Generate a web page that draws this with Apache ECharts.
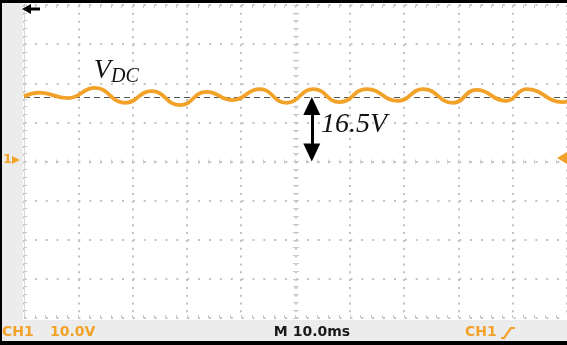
<!DOCTYPE html>
<html><head><meta charset="utf-8">
<script src="https://cdn.jsdelivr.net/npm/echarts@6/dist/echarts.min.js"></script>
<style>html,body{margin:0;padding:0;background:#fff}#c{width:567px;height:345px}</style>
</head><body><div id="c"></div>
<script>
// ---- data read from the scope capture ----
const timeMs  = [0, 2.8, 8.1, 13.1, 18.6, 23.5, 28.7, 33.6, 38.4, 43.4, 48.3, 53.3, 58.1, 63.1, 68.9, 73.5, 79.0, 83.3, 88.8, 92.5, 99.3, 100];
const voltage = [16.6, 17.6, 16.2, 18.8, 15.0, 18.0, 14.4, 17.8, 15.7, 18.5, 15.0, 18.5, 15.2, 18.5, 15.5, 18.5, 15.0, 18.3, 15.5, 18.5, 15.2, 15.3];
const dcLevel = 16.5;
const groundLevel = 0;
const arrowTime = 53.0;
const xRange = [0, 100];
const xStep = 10;
const yRange = [-40, 40];
const yStep = 10;
const vdcLabelPos = [17.0, 23.1];
const ampLabelPos = [60.8, 9.3];
const ampText = '16.5V';
const chText = 'CH1';
const voltsDiv = '10.0V';
const timeDiv = 'M 10.0ms';

const orange = '#f2a228';
const dotColor = '#c2c2c2';
const tickColor = '#c8c8c8';

const chart = echarts.init(document.getElementById('c'), null, {renderer: 'canvas'});

function xAx(extra) {
  return Object.assign({
    type: 'value', min: xRange[0], max: xRange[1], interval: xStep,
    axisLabel: {show: false},
    axisLine: {show: false, onZero: false},
    axisTick: {show: true, inside: true, length: 3, lineStyle: {color: tickColor}},
    minorTick: {show: true, splitNumber: 5, length: 3, lineStyle: {color: tickColor}},
    splitLine: {show: false}
  }, extra);
}
function yAx(extra) {
  return Object.assign({
    type: 'value', min: yRange[0], max: yRange[1], interval: yStep,
    axisLabel: {show: false},
    axisLine: {show: false, onZero: false},
    axisTick: {show: true, inside: true, length: 3, lineStyle: {color: tickColor}},
    minorTick: {show: true, splitNumber: 5, length: 3, lineStyle: {color: tickColor}},
    splitLine: {show: false}
  }, extra);
}

const option = {
  animation: false,
  backgroundColor: '#ffffff',
  grid: {left: 24, top: 5, width: 544, height: 313, containLabel: false},
  xAxis: [
    xAx({position: 'bottom', splitLine: {show: true, lineStyle: {color: dotColor, width: 2, type: [2, 5.83]}}}),
    xAx({position: 'top'}),
    xAx({position: 'bottom', offset: -156.5, axisTick: {show: true, inside: true, length: 2, lineStyle: {color: tickColor}}, minorTick: {show: true, splitNumber: 5, length: 2, lineStyle: {color: tickColor}}}),
    xAx({position: 'bottom', offset: -156.5, axisTick: {show: true, inside: false, length: 2, lineStyle: {color: tickColor}}, minorTick: {show: true, splitNumber: 5, length: 2, lineStyle: {color: tickColor}}})
  ],
  yAxis: [
    yAx({position: 'left', axisLine: {show: true, onZero: false, lineStyle: {color: '#dadada', width: 1}},
         splitLine: {show: true, lineStyle: {color: dotColor, width: 2, type: [2, 8.88]}}}),
    yAx({position: 'left', offset: -272, axisTick: {show: true, inside: true, length: 3, lineStyle: {color: tickColor}}, minorTick: {show: true, splitNumber: 5, length: 3, lineStyle: {color: tickColor}}}),
    yAx({position: 'left', offset: -272, axisTick: {show: true, inside: false, length: 3, lineStyle: {color: tickColor}}, minorTick: {show: true, splitNumber: 5, length: 3, lineStyle: {color: tickColor}}})
  ],
  series: [
    {
      type: 'line', xAxisIndex: 0, yAxisIndex: 0,
      data: timeMs.map((t, i) => [t, voltage[i]]),
      showSymbol: false, smooth: 0.5, smoothMonotone: 'x',
      lineStyle: {color: orange, width: 3.8},
      z: 5,
      markLine: {
        silent: true, symbol: 'none', animation: false,
        label: {show: false},
        lineStyle: {color: '#555', width: 1.2, type: [6, 4]},
        data: [{yAxis: dcLevel}]
      },
      markPoint: {
        silent: true, symbol: 'circle', symbolSize: 0,
        data: [
          {coord: vdcLabelPos, label: {show: true, position: 'inside', formatter: '{v|V}{s|DC}',
            rich: {
              v: {fontFamily: 'Liberation Serif', fontStyle: 'italic', fontSize: 28, color: '#111'},
              s: {fontFamily: 'Liberation Serif', fontStyle: 'italic', fontSize: 20, color: '#111', padding: [12, 0, 0, 0]}
            }}},
          {coord: ampLabelPos, label: {show: true, position: 'inside', formatter: ampText,
            fontFamily: 'Liberation Serif', fontStyle: 'italic', fontSize: 28, color: '#111'}}
        ]
      }
    },
    {
      type: 'line', xAxisIndex: 0, yAxisIndex: 0, data: [],
      markLine: {
        silent: true, animation: false, symbol: 'none',
        label: {show: false},
        lineStyle: {color: '#000', width: 3, type: 'solid'},
        data: [[{coord: [arrowTime, dcLevel - 1.5]}, {coord: [arrowTime, groundLevel + 1.5]}]]
      },
      markPoint: {
        silent: true, animation: false, label: {show: false},
        itemStyle: {color: '#000'},
        data: [
          {coord: [arrowTime, dcLevel], symbol: 'triangle', symbolSize: [17, 18], symbolOffset: [0, 9]},
          {coord: [arrowTime, groundLevel], symbol: 'triangle', symbolSize: [17, 18], symbolRotate: 180, symbolOffset: [0, -9]}
        ]
      }
    }
  ],
  graphic: [
    // left status strip and bottom bar
    {type: 'rect', shape: {x: 2, y: 3, width: 21, height: 338}, style: {fill: '#ececec'}, z: -1},
    {type: 'rect', shape: {x: 2, y: 320, width: 565, height: 21}, style: {fill: '#ececec'}, z: -1},
    // outer black frame
    {type: 'rect', shape: {x: 0, y: 0, width: 2, height: 345}, style: {fill: '#000'}, z: 10},
    {type: 'rect', shape: {x: 0, y: 0, width: 567, height: 3}, style: {fill: '#000'}, z: 10},
    {type: 'rect', shape: {x: 0, y: 341, width: 567, height: 4}, style: {fill: '#000'}, z: 10},
    // trigger-position arrow (top left)
    {type: 'line', shape: {x1: 29, y1: 9, x2: 40, y2: 9}, style: {stroke: '#000', lineWidth: 3}, z: 10},
    {type: 'polygon', shape: {points: [[22, 9], [31, 4], [31, 14]]}, style: {fill: '#000'}, z: 10},
    // channel 1 ground marker
    {type: 'text', style: {x: 3, y: 160, text: '1', fill: orange, font: 'bold 13px "DejaVu Sans"', verticalAlign: 'middle'}, z: 10},
    {type: 'polygon', shape: {points: [[12, 156], [20, 160], [12, 164]]}, style: {fill: orange}, z: 10},
    // trigger level marker (right)
    {type: 'polygon', shape: {points: [[557, 158], [567, 152], [567, 164]]}, style: {fill: orange}, z: 10},
    // bottom status texts
    {type: 'text', style: {x: 2, y: 332, text: chText, fill: orange, font: 'bold 14px "DejaVu Sans"', verticalAlign: 'middle'}, z: 10},
    {type: 'text', style: {x: 50, y: 332, text: voltsDiv, fill: orange, font: 'bold 14px "DejaVu Sans"', verticalAlign: 'middle'}, z: 10},
    {type: 'text', style: {x: 312, y: 332, text: timeDiv, fill: '#1a1a1a', font: 'bold 14px "DejaVu Sans"', align: 'center', verticalAlign: 'middle'}, z: 10},
    {type: 'text', style: {x: 465, y: 332, text: chText, fill: orange, font: 'bold 14px "DejaVu Sans"', verticalAlign: 'middle'}, z: 10},
    {type: 'polyline', shape: {points: [[501, 338], [504, 338], [511, 328], [515, 328]]}, style: {stroke: orange, lineWidth: 2.2, fill: null}, z: 10}
  ]
};
chart.setOption(option);
</script>
</body></html>
